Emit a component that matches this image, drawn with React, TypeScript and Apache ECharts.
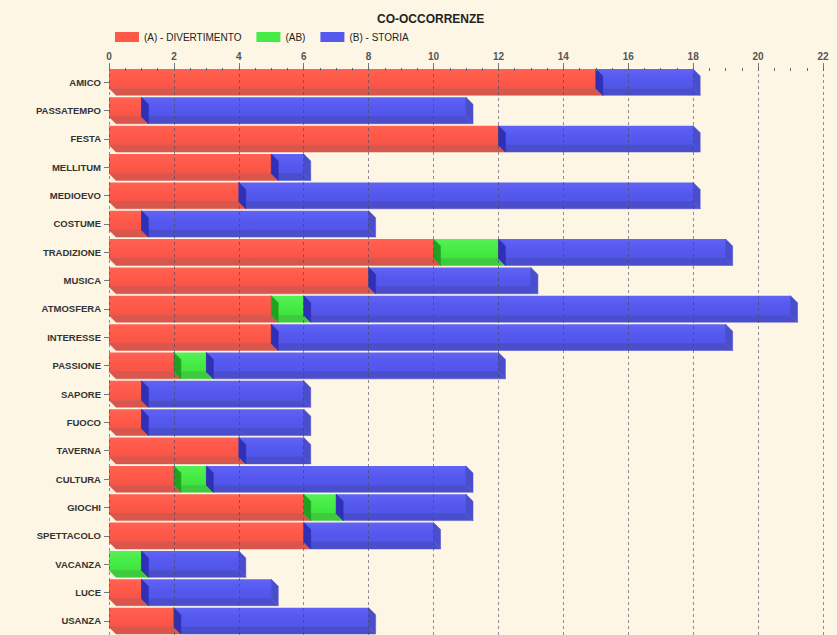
import React, { useEffect, useRef } from "react";
import * as echarts from "echarts";

const categories = ["AMICO", "PASSATEMPO", "FESTA", "MELLITUM", "MEDIOEVO", "COSTUME", "TRADIZIONE", "MUSICA", "ATMOSFERA", "INTERESSE", "PASSIONE", "SAPORE", "FUOCO", "TAVERNA", "CULTURA", "GIOCHI", "SPETTACOLO", "VACANZA", "LUCE", "USANZA"];
const divertimento = [15, 1, 12, 5, 4, 1, 10, 8, 5, 5, 2, 1, 1, 4, 2, 6, 6, 0, 1, 2];
const abValues = [0, 0, 0, 0, 0, 0, 2, 0, 1, 0, 1, 0, 0, 0, 1, 1, 0, 1, 0, 0];
const storia = [3, 10, 6, 1, 14, 7, 7, 5, 15, 14, 9, 5, 5, 2, 8, 4, 4, 3, 4, 6];
const seriesNames = ["(A) - DIVERTIMENTO", "(AB)", "(B) - STORIA"];
const xTicks = { min: 0, max: 22, interval: 2 };

const palettes = [
  { top: "#FF6253", mid: "#FF5848", bot: "#F45548", bottom: "#D9564C", side: "#B8352C", legend: "#FF5848" },
  { top: "#55F055", mid: "#45EC45", bot: "#40E240", bottom: "#3DCA3D", side: "#22A022", legend: "#45EC45" },
  { top: "#6063F5", mid: "#5558EE", bot: "#5155E8", bottom: "#4B4ECC", side: "#2F30B5", legend: "#5558EE" },
];

export default function App() {
  const ref = useRef<HTMLDivElement>(null);
  useEffect(() => {
    document.body.style.margin = "0";
    const chart = echarts.init(ref.current!, null, { renderer: "svg" });
    const all = [divertimento, abValues, storia];
    const makeData = (si: number) =>
      categories.map((_, i) => {
        let start = 0;
        for (let k = 0; k < si; k++) start += all[k][i];
        return [i, start, start + all[si][i]];
      });
    const D = 7;
    const renderItem = (si: number) => (params: any, api: any) => {
      const ci = api.value(0);
      const s = api.value(1);
      const e = api.value(2);
      if (e - s <= 0) return null;
      const p0 = api.coord([s, ci]);
      const p1 = api.coord([e, ci]);
      const band = api.size([0, 1])[1];
      const h = band * 0.93;
      const yTop = p0[1] - h / 2;
      const yBot = yTop + h;
      const x0 = p0[0];
      const x1 = p1[0];
      const pal = palettes[si];
      const children: any[] = [
        {
          type: "rect",
          shape: { x: x0, y: yTop, width: x1 - x0 + 0.5, height: h - D + 0.5 },
          style: {
            stroke: null,
            fill: new echarts.graphic.LinearGradient(0, 0, 0, 1, [
              { offset: 0, color: pal.top },
              { offset: 0.55, color: pal.mid },
              { offset: 1, color: pal.bot },
            ]),
          },
        },
        {
          type: "polygon",
          shape: { points: [[x0, yBot - D], [x1, yBot - D], [x1 + D, yBot], [x0 + D, yBot]] },
          style: { fill: pal.bottom, stroke: pal.bottom, lineWidth: 0.5 },
        },
        {
          type: "polygon",
          shape: { points: [[x1, yTop], [x1 + D, yTop + D], [x1 + D, yBot], [x1, yBot - D]] },
          style: { fill: pal.bottom, stroke: pal.bottom, lineWidth: 0.5 },
        },
      ];
      if (s > 0) {
        children.push({
          type: "polygon",
          shape: { points: [[x0, yTop], [x0 + D, yTop + D], [x0 + D, yBot], [x0, yBot - D]] },
          style: { fill: pal.side, stroke: pal.side, lineWidth: 0.5 },
        });
      }
      return { type: "group", children };
    };
    chart.setOption({
      animation: false,
      backgroundColor: "#FDF6E4",
      textStyle: { fontFamily: "Liberation Sans, Arial, sans-serif" },
      title: {
        text: "CO-OCCORRENZE",
        left: 372,
        top: 8,
        textStyle: { fontSize: 12, fontWeight: "bold", color: "#222" },
      },
      legend: {
        left: 110,
        top: 27,
        itemWidth: 24,
        itemHeight: 10,
        itemGap: 15,
        icon: "rect",
        textStyle: { fontSize: 10, color: "#222" },
        data: seriesNames,
      },
      grid: { left: 109, right: 14, top: 68, height: 568 },
      xAxis: [
        {
          type: "value",
          position: "top",
          min: xTicks.min,
          max: xTicks.max,
          interval: xTicks.interval,
          z: 5,
          axisLine: { show: false },
          axisTick: { show: true, length: 5, lineStyle: { color: "#777" } },
          axisLabel: { fontSize: 10, fontWeight: "bold", color: "#555", margin: 7 },
          splitLine: { show: true, lineStyle: { type: [3, 3], color: "rgba(70,70,90,0.6)", width: 1 } },
        },
        {
          type: "value",
          position: "top",
          min: xTicks.min,
          max: xTicks.max,
          interval: 0.5,
          z: 5,
          axisLine: { show: false },
          axisTick: { show: true, inside: true, length: 3, lineStyle: { color: "#666" } },
          axisLabel: { show: false },
          splitLine: { show: false },
        },
      ],
      yAxis: {
        type: "category",
        data: categories,
        inverse: true,
        axisLine: { show: false },
        axisTick: { show: true, length: 5, alignWithLabel: true, lineStyle: { color: "#777" } },
        axisLabel: { fontSize: 9.5, fontWeight: "bold", color: "#333", margin: 8 },
        splitLine: { show: false },
      },
      series: seriesNames.map((name, si) => ({
        type: "custom",
        name,
        xAxisIndex: 0,
        itemStyle: { color: palettes[si].legend },
        renderItem: renderItem(si),
        encode: { x: [1, 2], y: 0 },
        data: makeData(si),
        z: 2,
      })),
    });
    return () => chart.dispose();
  }, []);
  return <div ref={ref} style={{ width: 837, height: 635 }} />;
}
